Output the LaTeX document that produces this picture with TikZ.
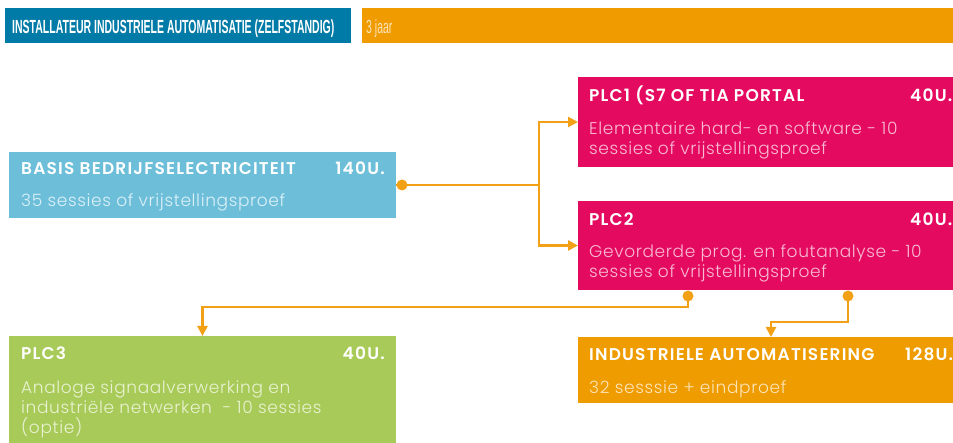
\documentclass[tikz,border=0pt]{standalone}
\usepackage{fontspec}
\setmainfont{Poppins}
\newfontfamily\ttlfont[LetterSpace=7]{Poppins SemiBold}
\newfontfamily\subfont[LetterSpace=3.7]{Poppins Light}
\newfontfamily\hfont[FakeStretch=0.553]{Liberation Sans}
\usetikzlibrary{calc,arrows.meta}
\definecolor{hdrblue}{RGB}{0,122,166}
\definecolor{hdrorange}{RGB}{240,155,0}
\definecolor{basisblue}{RGB}{108,190,217}
\definecolor{pinkbox}{RGB}{228,10,96}
\definecolor{greenbox}{RGB}{168,202,88}
\definecolor{orangebox}{RGB}{239,156,0}
\definecolor{conn}{RGB}{242,161,22}
\definecolor{subblue}{RGB}{220,240,248}
\definecolor{subpink}{RGB}{249,186,210}
\definecolor{subgreen}{RGB}{232,242,208}
\definecolor{suborange}{RGB}{252,228,184}
\tikzset{
  box/.style={draw=none, anchor=north west, inner sep=0pt, outer sep=0pt},
  ttl/.style={anchor=base west, inner sep=0pt, text=white, font=\ttlfont\fontsize{17}{20}\selectfont},
  ttlr/.style={anchor=base east, inner sep=0pt, text=white, font=\ttlfont\fontsize{17}{20}\selectfont},
  sub/.style={anchor=base west, inner sep=0pt, align=left, font=\subfont\fontsize{17}{20}\selectfont},
  wire/.style={draw=conn, line width=2.5pt},
  arr/.style={wire, -{Triangle[length=10pt,width=10pt]}},
  dot/.style={fill=conn}
}
\begin{document}
\begin{tikzpicture}[x=1pt,y=-1pt]
\useasboundingbox (0,0) rectangle (953,443);
\clip (0,0) rectangle (953,443);
\fill[white] (0,0) rectangle (953,443);
% header
\node[box, fill=hdrblue, minimum width=346pt, minimum height=35pt] (hdr) at (5,8) {};
\node[box, fill=hdrorange, minimum width=600pt, minimum height=35pt] (dur) at (362,8) {};
\node[anchor=base west, inner sep=0pt, text=white, font=\hfont\fontsize{19}{20}\selectfont\bfseries] (hdrt) at (12,33.5) {INSTALLATEUR INDUSTRIELE AUTOMATISATIE (ZELFSTANDIG)};
\node[anchor=base west, inner sep=0pt, text=suborange, font=\hfont\fontsize{19}{20}\selectfont] (durt) at (366,33.5) {3 jaar};
% boxes
\node[box, fill=basisblue, minimum width=387pt, minimum height=66pt] (basis) at (9,152) {};
\node[ttl] (basist) at (21,175) {BASIS BEDRIJFSELECTRICITEIT};
\node[ttlr] (basish) at (385,175) {140U.};
\node[sub, text=subblue] (basiss) at (21,207) {35 sessies of vrijstellingsproef};

\node[box, fill=pinkbox, minimum width=386pt, minimum height=90pt] (plc1) at (578,77) {};
\node[ttl] (plc1t) at (589,102) {PLC1 (S7 OF TIA PORTAL};
\node[ttl] (plc1h) at (910,102) {40U.};
\node[sub, text=subpink] (plc1s) at (589,155) {Elementaire hard- en software - 10\\sessies of vrijstellingsproef};

\node[box, fill=pinkbox, minimum width=386pt, minimum height=89pt] (plc2) at (578,201) {};
\node[ttl] (plc2t) at (589,226) {PLC2};
\node[ttl] (plc2h) at (910,226) {40U.};
\node[sub, text=subpink] (plc2s) at (589,278) {Gevorderde prog. en foutanalyse - 10\\sessies of vrijstellingsproef};

\node[box, fill=greenbox, minimum width=387pt, minimum height=120pt] (plc3) at (9,336) {};
\node[ttl] (plc3t) at (21,360) {PLC3};
\node[ttlr] (plc3h) at (385,360) {40U.};
\node[sub, text=subgreen] (plc3s) at (21,433) {Analoge signaalverwerking en\\industriële netwerken\ \ - 10 sessies\\(optie)};

\node[box, fill=orangebox, minimum width=386pt, minimum height=66pt] (ind) at (578,337) {};
\node[ttl] (indt) at (589,361) {INDUSTRIELE AUTOMATISERING};
\node[ttl] (indh) at (905,361) {128U.};
\node[sub, text=suborange] (inds) at (589,393) {32 sesssie + eindproef};

% connectors
\coordinate (split) at ($(basis.east)+(143,0)$);
\coordinate (d0) at ($(basis.east)+(6,0)$);
\draw[wire] (basis.east) -- (split);
\draw[arr] (split) |- (plc1.west);
\draw[arr] (split) |- (plc2.west);
\fill[dot] (d0) circle (5.5pt);

\coordinate (d1) at ($(plc2.south west)+(110,6)$);
\coordinate (d2) at ($(plc2.south west)+(270,6)$);
\draw[arr] (d1) -- ++(0,11) -| (plc3.north);
\draw[arr] (d2) -- ++(0,26) -| (ind.north);
\fill[dot] (d1) circle (5.5pt);
\fill[dot] (d2) circle (5.5pt);
\end{tikzpicture}
\end{document}
